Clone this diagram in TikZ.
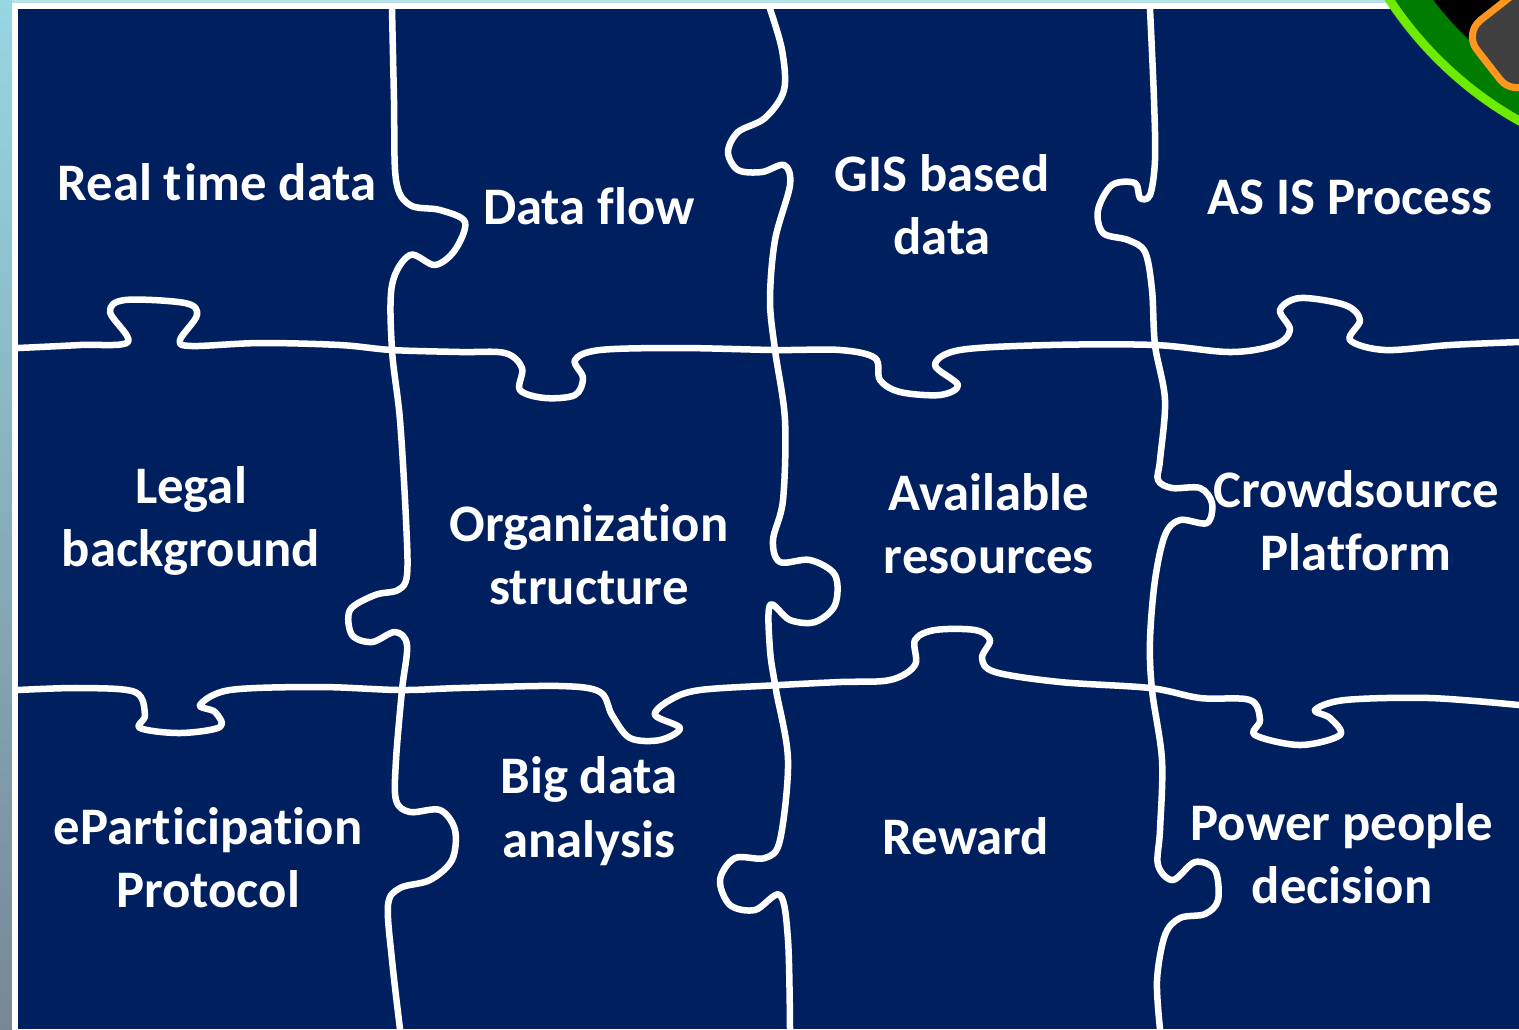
\documentclass[tikz,border=0pt]{standalone}
\usepackage{fontspec}
\setmainfont[Ligatures={NoCommon,NoContextual},RawFeature={-liga;-clig;-dlig;-calt}]{Carlito}
\definecolor{navy}{RGB}{0,31,94}
\definecolor{stripcyan}{RGB}{150,215,225}
\definecolor{stripgray}{RGB}{120,135,150}
\definecolor{limeedge}{RGB}{110,235,0}
\definecolor{ringgreen}{RGB}{0,125,0}
\definecolor{knoborange}{RGB}{255,150,30}
\newcommand{\tisep}{t\kern0.6pt i}
\tikzset{piece/.style={text=white,align=center,font=\fontsize{15}{18}\selectfont\bfseries},
  cut/.style={white,line width=1.85pt,line cap=round,line join=round}}
\begin{document}
\begin{tikzpicture}[x=0.01cm,y=-0.01cm]
\useasboundingbox (0,0) rectangle (1519,1029);
\fill[top color=stripcyan,bottom color=stripgray] (0,0) rectangle (12,1029);
\fill[stripcyan!70!white] (12,0) rectangle (1519,3);
\fill[white] (12,3) rectangle (1519,1029);
\fill[navy] (18,9) rectangle (1519,1029);
\begin{scope}
\clip (0,0) rectangle (1519,1029);
\fill[limeedge] (1702,-205) circle (378);
\fill[ringgreen] (1702,-205) circle (369);
\fill[black] (1702,-205) circle (338);
\draw[knoborange,line width=2pt,fill=black!75,rounded corners=6pt,rotate around={38:(1520,40)}]
  (1480,0) rectangle (1560,80);
\end{scope}
\draw[cut] plot[smooth,tension=0.55] coordinates {(392,9) (394,100) (396,180) (410,205) (440,210)
  (465,222) (455,250) (435,265) (410,255) (392,285) (392,350) (400,420) (406,520) (407,575)
  (398,590) (375,595) (350,610) (352,635) (372,642) (395,632) (407,645) (402,690) (396,760)
  (396,800) (410,812) (440,810) (455,830) (452,860) (430,880) (400,888) (388,905) (392,960) (400,1029)};
\draw[cut] plot[smooth,tension=0.55] coordinates {(770,9) (782,50) (784,90) (765,118) (738,132)
  (728,152) (738,170) (762,172) (784,165) (790,185) (775,240) (770,300) (775,350) (785,420)
  (783,500) (773,540) (780,562) (810,560) (835,575) (835,605) (815,622) (790,620) (770,605)
  (770,650) (776,690) (788,760) (780,840) (765,858) (735,858) (720,880) (730,905) (755,910)
  (780,895) (788,940) (790,1029)};
\draw[cut] plot[smooth,tension=0.55] coordinates {(1150,9) (1154,100) (1155,160) (1150,195)
  (1140,198) (1135,183) (1112,185) (1098,210) (1103,233) (1128,240) (1145,252) (1152,290)
  (1155,345) (1165,400) (1160,460) (1158,480) (1172,488) (1200,488) (1212,503) (1207,523)
  (1180,520) (1165,535) (1155,580) (1150,640) (1152,690) (1162,760) (1160,830) (1158,865)
  (1173,880) (1195,862) (1215,870) (1218,900) (1205,914) (1180,918) (1165,935) (1157,980) (1160,1029)};
\draw[cut] plot[smooth,tension=0.55] coordinates {(18,348) (80,345) (128,342) (110,312) (125,300)
  (185,303) (197,315) (180,340) (192,346) (260,343) (340,345) (392,350) (460,352) (505,353)
  (522,368) (520,390) (545,398) (575,395) (583,378) (575,360) (600,350) (680,348) (775,350)
  (840,350) (875,358) (880,380) (900,392) (940,395) (958,385) (935,365) (960,350) (1050,345)
  (1155,345) (1230,352) (1275,345) (1290,330) (1280,310) (1300,298) (1345,305) (1360,320)
  (1350,340) (1385,350) (1450,345) (1519,342)};
\draw[cut] plot[smooth,tension=0.55] coordinates {(18,690) (80,688) (135,692) (145,715) (140,728)
  (180,733) (220,727) (215,712) (200,705) (230,690) (320,687) (400,690) (460,688) (560,686)
  (600,692) (612,715) (630,738) (660,740) (680,728) (655,715) (670,700) (700,690) (780,685)
  (840,682) (890,680) (915,665) (915,640) (935,630) (975,630) (990,640) (982,658) (995,672)
  (1060,682) (1150,688) (1200,698) (1250,700) (1260,720) (1255,735) (1300,745) (1340,735)
  (1330,718) (1315,710) (1345,700) (1430,698) (1519,705)};
\node[piece] (rtd) at (217,182) {Real \tisep me data};
\node[piece] (flow) at (589,206) {Data flow};
\node[piece] (gis) at (942,205) {GIS based\\data};
\node[piece] (asis) at (1350,197) {AS IS Process};
\node[piece] (legal) at (191,521) {Legal\\background};
\node[piece] (org) at (589,555) {Organization\\structure};
\node[piece] (avail) at (989,524) {Available\\resources};
\node[piece] (crowd) at (1356,521) {Crowdsource\\Platform};
\node[piece] (epart) at (208,858) {ePar\tisep cipation\\Protocol};
\node[piece] (bigd) at (589,811) {Big data\\analysis};
\node[piece] (reward) at (966,836) {Reward};
\node[piece] (power) at (1342,854) {Power people\\decision};
\end{tikzpicture}
\end{document}
